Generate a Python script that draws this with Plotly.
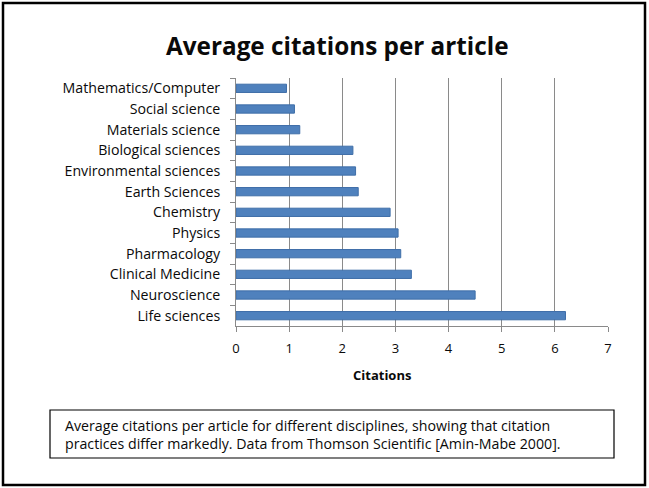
import plotly.graph_objects as go

# Disciplines, listed top to bottom as shown on the chart
disciplines = [
    "Mathematics/Computer",
    "Social science",
    "Materials science",
    "Biological sciences",
    "Environmental sciences",
    "Earth Sciences",
    "Chemistry",
    "Physics",
    "Pharmacology",
    "Clinical Medicine",
    "Neuroscience",
    "Life sciences",
]
avg_citations = [0.95, 1.1, 1.2, 2.2, 2.25, 2.3, 2.9, 3.05, 3.1, 3.3, 4.5, 6.2]
x_ticks = [0, 1, 2, 3, 4, 5, 6, 7]

title_text = "Average citations per article"
axis_title = "Citations"
caption_lines = [
    "Average citations per article for different disciplines, showing that citation",
    "practices differ markedly. Data from Thomson Scientific [Amin-Mabe 2000].",
]

W, H = 649, 488
L, R, T, B = 236, 41, 78, 162
PW, PH = W - L - R, H - T - B
FONT = "Open Sans"
INK = "#0a0a0a"


def px(x):
    return (x - L) / PW


def py(y):
    return (H - B - y) / PH


fig = go.Figure(
    go.Bar(
        x=avg_citations,
        y=disciplines,
        orientation="h",
        width=0.4,
        marker=dict(color="#4F81BD", line=dict(color="#3F6EA8", width=1)),
    )
)

fig.update_layout(
    width=W,
    height=H,
    margin=dict(l=L, r=R, t=T, b=B),
    paper_bgcolor="white",
    plot_bgcolor="white",
    showlegend=False,
    font=dict(family=FONT, color=INK),
)

fig.update_xaxes(
    range=[0, 7],
    tickvals=x_ticks,
    showgrid=True,
    gridcolor="#8a8a8a",
    gridwidth=1,
    zeroline=False,
    showline=True,
    linecolor="#8a8a8a",
    linewidth=1,
    ticks="outside",
    ticklen=5,
    tickcolor="#8a8a8a",
    tickfont=dict(size=13, family=FONT, color=INK),
    ticklabelstandoff=5,
)
fig.update_yaxes(
    categoryorder="array",
    categoryarray=disciplines,
    autorange="reversed",
    showgrid=False,
    showline=True,
    linecolor="#8a8a8a",
    linewidth=1,
    ticks="outside",
    tickson="boundaries",
    ticklen=5,
    tickcolor="#8a8a8a",
    tickfont=dict(size=14.2, family=FONT, color=INK),
    ticklabelstandoff=12,
)

annotations = [
    dict(
        text="<b>" + title_text + "</b>",
        x=px(337), y=py(45), xref="paper", yref="paper",
        xanchor="center", yanchor="middle", showarrow=False,
        font=dict(size=24.3, family=FONT, color=INK),
    ),
    dict(
        text="<b>" + axis_title + "</b>",
        x=px(382), y=py(375), xref="paper", yref="paper",
        xanchor="center", yanchor="middle", showarrow=False,
        font=dict(size=13, family=FONT, color=INK),
    ),
]
for i, line in enumerate(caption_lines):
    annotations.append(
        dict(
            text=line,
            x=px(63), y=py(425 + 18 * i), xref="paper", yref="paper",
            xanchor="left", yanchor="middle", showarrow=False,
            font=dict(size=14.2, family=FONT, color=INK),
        )
    )
fig.update_layout(annotations=annotations)

fig.update_layout(
    shapes=[
        # outer frame
        dict(type="rect", xref="paper", yref="paper",
             x0=px(3), x1=px(645), y0=py(3), y1=py(485),
             line=dict(color="black", width=2.5)),
        # caption box
        dict(type="rect", xref="paper", yref="paper",
             x0=px(50), x1=px(614), y0=py(410), y1=py(458),
             line=dict(color="black", width=1.2)),
    ]
)

fig.write_html("out.html")
